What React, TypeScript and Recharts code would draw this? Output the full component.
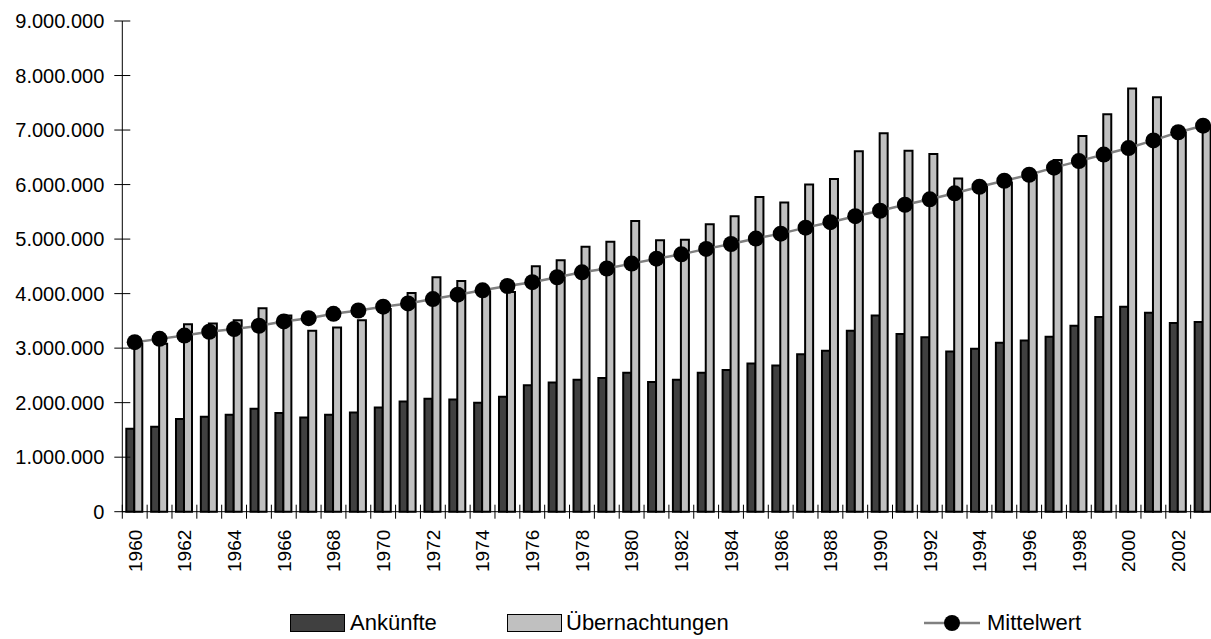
import React from 'react';
import { ComposedChart, Bar, Line, XAxis, YAxis } from 'recharts';

const years = [
  '1960', '1961', '1962', '1963', '1964', '1965', '1966', '1967', '1968', '1969',
  '1970', '1971', '1972', '1973', '1974', '1975', '1976', '1977', '1978', '1979',
  '1980', '1981', '1982', '1983', '1984', '1985', '1986', '1987', '1988', '1989',
  '1990', '1991', '1992', '1993', '1994', '1995', '1996', '1997', '1998', '1999',
  '2000', '2001', '2002', '2003',
];

const ankuenfte = [
  1520000, 1560000, 1700000, 1740000, 1780000, 1890000, 1810000, 1730000, 1780000, 1820000,
  1910000, 2020000, 2070000, 2060000, 2000000, 2110000, 2320000, 2370000, 2420000, 2450000,
  2550000, 2380000, 2420000, 2550000, 2600000, 2720000, 2680000, 2890000, 2950000, 3320000,
  3600000, 3260000, 3200000, 2940000, 2990000, 3100000, 3140000, 3210000, 3410000, 3570000,
  3760000, 3650000, 3460000, 3480000,
];

const uebernachtungen = [
  3080000, 3080000, 3440000, 3450000, 3510000, 3730000, 3600000, 3320000, 3380000, 3510000,
  3720000, 4010000, 4300000, 4230000, 4040000, 4030000, 4500000, 4610000, 4860000, 4950000,
  5330000, 4980000, 4990000, 5270000, 5420000, 5770000, 5670000, 6000000, 6100000, 6610000,
  6940000, 6620000, 6560000, 6110000, 5970000, 6040000, 6170000, 6450000, 6890000, 7290000,
  7760000, 7600000, 6960000, 7060000,
];

const mittelwert = [
  3110000, 3170000, 3230000, 3300000, 3350000, 3410000, 3490000, 3550000, 3630000, 3690000,
  3760000, 3820000, 3900000, 3980000, 4060000, 4140000, 4210000, 4300000, 4390000, 4460000,
  4550000, 4640000, 4720000, 4820000, 4910000, 5010000, 5100000, 5210000, 5310000, 5420000,
  5520000, 5630000, 5730000, 5840000, 5960000, 6070000, 6180000, 6310000, 6430000, 6550000,
  6670000, 6810000, 6960000, 7080000,
];

const yTicks = [0, 1000000, 2000000, 3000000, 4000000, 5000000, 6000000, 7000000, 8000000, 9000000];

const data = years.map((year, i) => ({
  year,
  ankuenfte: ankuenfte[i],
  uebernachtungen: uebernachtungen[i],
  mittelwert: mittelwert[i],
}));

const FONT = '"Liberation Sans", Arial, sans-serif';
const CHART_W = 1240;
const CHART_H = 639;
const MARGIN = { top: 21, right: 24.5, bottom: 97.3, left: 0 };
const Y_AXIS_W = 122.3;
const BAND = (CHART_W - MARGIN.right - Y_AXIS_W) / years.length;

const fmt = (v: number) => String(v).replace(/\B(?=(\d{3})+(?!\d))/g, '.');

const YTick = (props: any) => {
  const { x, y, payload } = props;
  return (
    <g>
      <line x1={x - 8} x2={x + 8} y1={y} y2={y} stroke="#000" strokeWidth={1} />
      <text x={x - 18} y={y} dy="0.36em" textAnchor="end" fontSize={20} fontFamily={FONT} fill="#000">
        {fmt(payload.value)}
      </text>
    </g>
  );
};

const XTick = (props: any) => {
  const { x, y, payload, index } = props;
  const left = x - BAND / 2;
  const right = x + BAND / 2;
  const showLabel = index % 2 === 0;
  return (
    <g>
      <line x1={left} x2={left} y1={y - 7} y2={y + 7} stroke="#000" strokeWidth={1} />
      {index === years.length - 1 && (
        <line x1={right} x2={right} y1={y - 7} y2={y + 7} stroke="#000" strokeWidth={1} />
      )}
      {showLabel && (
        <g transform={`translate(${x},${y + 18}) rotate(-90)`}>
          <text x={0} y={0} dy="0.36em" textAnchor="end" fontSize={19} fontFamily={FONT} fill="#000">
            {payload.value}
          </text>
        </g>
      )}
    </g>
  );
};

const legendText: React.CSSProperties = {
  position: 'absolute',
  top: 610,
  fontFamily: FONT,
  fontSize: 22,
  lineHeight: '26px',
  color: '#000',
  whiteSpace: 'nowrap',
};

export default function App() {
  return (
    <div style={{ position: 'relative', width: 1211, height: 639, overflow: 'hidden', background: '#fff' }}>
      <style>{'body{margin:0;overflow:hidden}'}</style>
      <ComposedChart width={CHART_W} height={CHART_H} data={data} margin={MARGIN} barGap={0}>
        <XAxis
          dataKey="year"
          interval={0}
          height={30}
          tickSize={0}
          tickMargin={0}
          tickLine={false}
          axisLine={{ stroke: '#000', strokeWidth: 1 }}
          tick={<XTick />}
        />
        <YAxis
          width={Y_AXIS_W}
          domain={[0, 9000000]}
          ticks={yTicks}
          interval={0}
          tickSize={0}
          tickMargin={0}
          tickLine={false}
          axisLine={{ stroke: '#000', strokeWidth: 1 }}
          tick={<YTick />}
        />
        <Bar dataKey="ankuenfte" name="Ankünfte" fill="#404040" stroke="#000" strokeWidth={2} barSize={8} isAnimationActive={false} />
        <Bar dataKey="uebernachtungen" name="Übernachtungen" fill="#c0c0c0" stroke="#000" strokeWidth={2} barSize={8} isAnimationActive={false} />
        <Line
          dataKey="mittelwert"
          name="Mittelwert"
          type="linear"
          stroke="#808080"
          strokeWidth={2.5}
          dot={{ r: 8, fill: '#000', stroke: '#000', strokeWidth: 0 }}
          activeDot={false}
          isAnimationActive={false}
        />
      </ComposedChart>

      <div style={{ position: 'absolute', left: 290, top: 614, width: 53, height: 16, background: '#404040', border: '1px solid #000' }} />
      <div style={{ ...legendText, left: 350 }}>Ankünfte</div>

      <div style={{ position: 'absolute', left: 507, top: 614, width: 53, height: 16, background: '#c0c0c0', border: '1px solid #000' }} />
      <div style={{ ...legendText, left: 566 }}>Übernachtungen</div>

      <svg style={{ position: 'absolute', left: 920, top: 610 }} width={64} height={26}>
        <line x1={4} x2={60} y1={13} y2={13} stroke="#808080" strokeWidth={2.5} />
        <circle cx={32} cy={13} r={8} fill="#000" />
      </svg>
      <div style={{ ...legendText, left: 987 }}>Mittelwert</div>
    </div>
  );
}
